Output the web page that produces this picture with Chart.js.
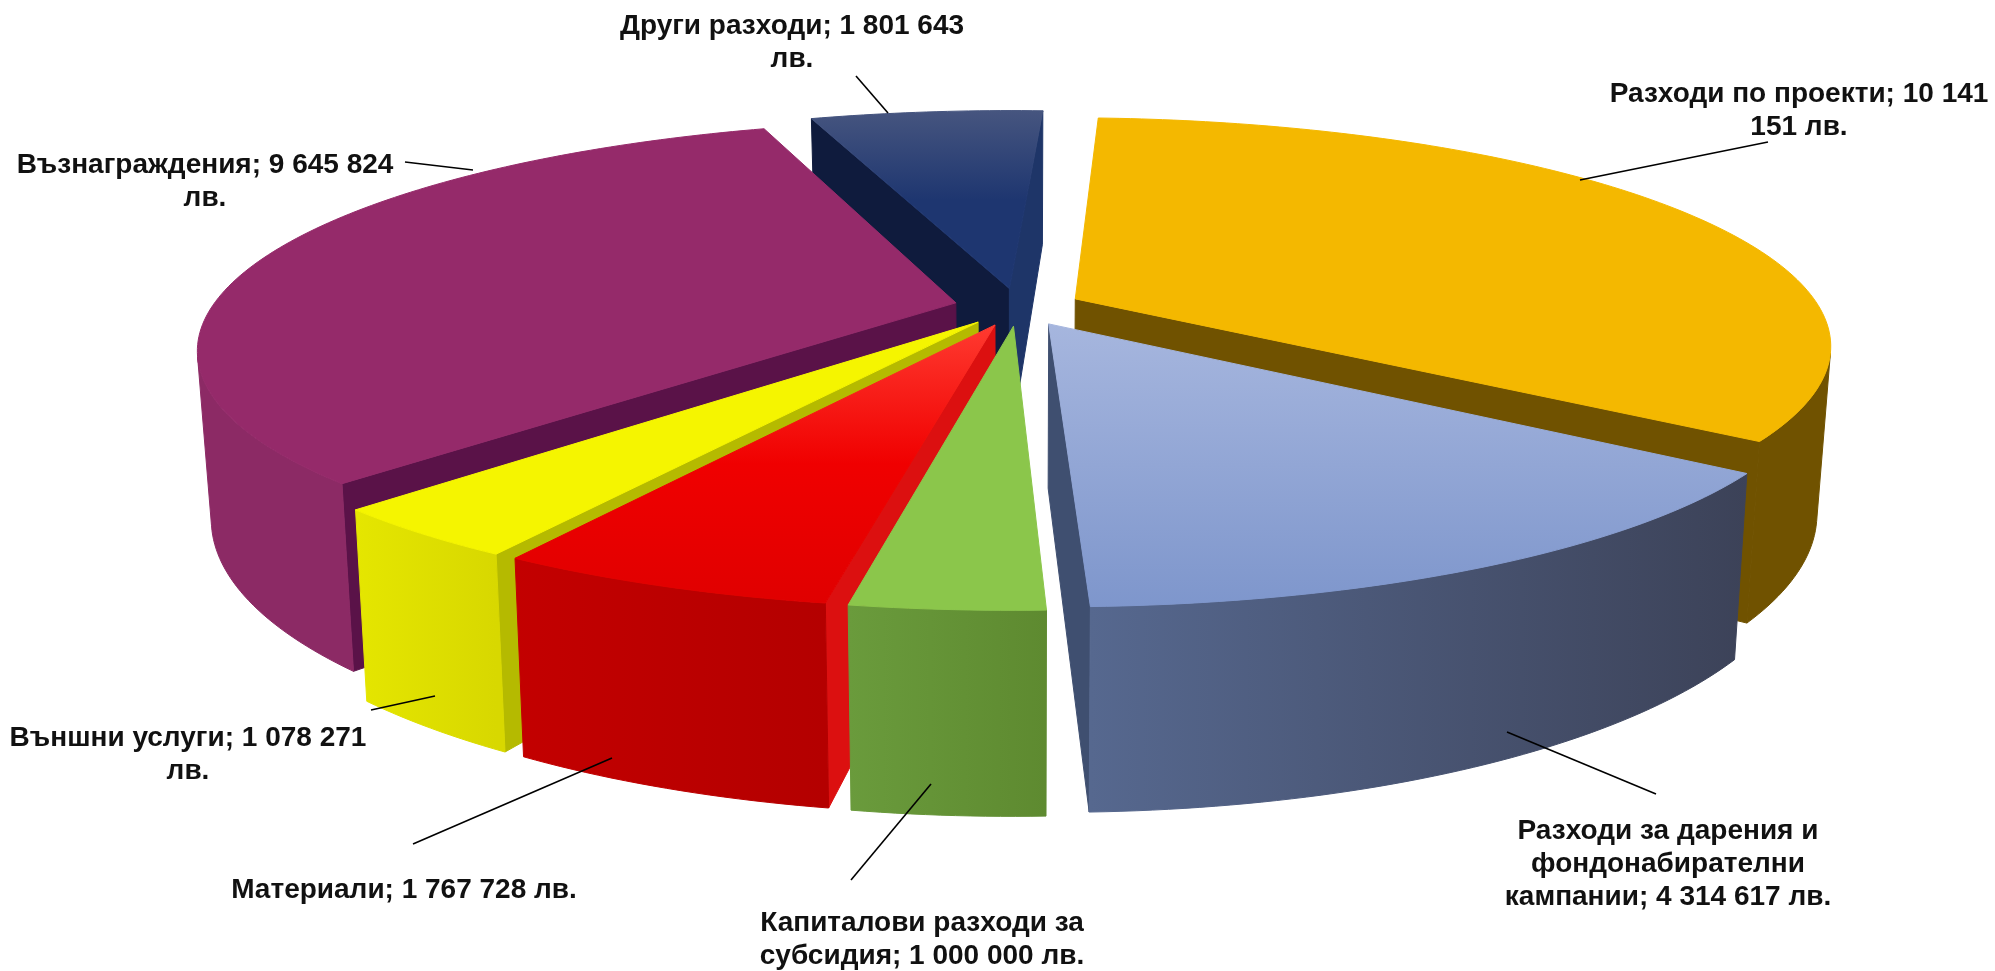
<!DOCTYPE html>
<html>
<head>
<meta charset="utf-8">
<title>Разходи</title>
<script src="https://cdn.jsdelivr.net/npm/chart.js@4/dist/chart.umd.min.js"></script>
<style>
  html, body { margin: 0; background: #fff; }
  canvas { display: block; }
</style>
</head>
<body>
<canvas id="pie3d" width="1995" height="971"></canvas>
<script>
const categories = [
  "Разходи по проекти",
  "Разходи за дарения и фондонабирателни кампании",
  "Капиталови разходи за субсидия",
  "Материали",
  "Външни услуги",
  "Възнаграждения",
  "Други разходи",
];
const values = [10141151, 4314617, 1000000, 1767728, 1078271, 9645824, 1801643];

// colours per slice: top face (vertical stops), outer wall (horizontal stops),
// cut face at the start of the slice, cut face at the end of the slice
const topColors = [
  ["#f4b800", "#f4b800"],
  ["#a6b6de", "#7e96cc"],
  ["#8bc64b", "#8bc64b"],
  ["#ff3a30", "#f00000", "#e00000"],
  ["#f5f500", "#f5f500"],
  ["#952a6a", "#952a6a"],
  ["#46557f", "#1e3670", "#1e3670"],
];
const wallColors = [
  ["#705200", "#705200"],
  ["#56688f", "#3c4258"],
  ["#6a9b3c", "#5e8a30"],
  ["#c30000", "#b40000"],
  ["#e5e600", "#d8d800"],
  ["#8c2a65", "#8c2a65"],
  ["#1e3568", "#1e3568"],
];
const startCutColors = ["#705200", "#3f4f70", "#6a9b3c", "#dc1010", "#b5ba00", "#5a1248", "#0f1b3d"];
const endCutColors = ["#705200", "#3f4f70", "#6a9b3c", "#c30000", "#b5ba00", "#5a1248", "#1e3568"];

// label anchor (centre x, first line middle y), wrap width, leader line
const labelLayout = [
  { x: 1799, y: 94, wrap: 400, line: [1768, 142, 1580, 180] },
  { x: 1668, y: 831, wrap: 340, line: [1656, 794, 1507, 732] },
  { x: 922, y: 923, wrap: 340, line: [851, 880, 931, 784] },
  { x: 404, y: 890, wrap: 400, line: [413, 844, 612, 758] },
  { x: 188, y: 738, wrap: 370, line: [371, 710, 435, 696] },
  { x: 205, y: 165, wrap: 390, line: [405, 162, 473, 170] },
  { x: 792, y: 26, wrap: 360, line: [856, 76, 888, 113] },
];

const view = { dist: 3780, height: 1116, depth: 162, bottomShrink: 0.983 };
const lineHeight = 33;

function formatLv(v) {
  return String(v).replace(/\B(?=(\d{3})+$)/g, " ") + " лв.";
}

function project(arc, X, Y, bottom) {
  const s = 1 / (1 - Y / view.dist);
  const k = bottom ? view.bottomShrink : 1;
  return {
    x: arc.x + X * s * k,
    y: arc.y + ((bottom ? view.height + view.depth : view.height) * s - view.height),
  };
}

// signed area on screen, negative means the wall looks at the viewer
function facing(a, b, c, d) {
  const pts = [a, b, c, d];
  let sum = 0;
  pts.forEach((p, i) => {
    const q = pts[(i + 1) % 4];
    sum += p.x * q.y - q.x * p.y;
  });
  return sum < 0;
}

function fillPoly(ctx, pts, fill) {
  ctx.beginPath();
  pts.forEach((p, i) => (i ? ctx.lineTo(p.x, p.y) : ctx.moveTo(p.x, p.y)));
  ctx.closePath();
  ctx.fillStyle = fill;
  ctx.strokeStyle = fill;
  ctx.lineWidth = 1;
  ctx.fill();
  ctx.stroke();
}

function makeGradient(ctx, x0, y0, x1, y1, stops) {
  const g = ctx.createLinearGradient(x0, y0, x1, y1);
  stops.forEach((c, i) => g.addColorStop(i / (stops.length - 1), c));
  return g;
}

function drawSlice(ctx, arc, i) {
  const mid = (arc.startAngle + arc.endAngle) / 2;
  const off = arc.options.offset;
  const ox = Math.cos(mid) * off;
  const oy = Math.sin(mid) * off;
  const steps = Math.ceil(((arc.endAngle - arc.startAngle) * 180) / Math.PI);
  const ringTop = [];
  const ringBottom = [];
  for (let n = 0; n <= steps; n++) {
    const a = arc.startAngle + ((arc.endAngle - arc.startAngle) * n) / steps;
    const X = ox + Math.cos(a) * arc.outerRadius;
    const Y = oy + Math.sin(a) * arc.outerRadius;
    ringTop.push(project(arc, X, Y, false));
    ringBottom.push(project(arc, X, Y, true));
  }
  const apexTop = project(arc, ox, oy, false);
  const apexBottom = project(arc, ox, oy, true);

  // cut faces
  if (facing(apexTop, ringTop[0], ringBottom[0], apexBottom)) {
    fillPoly(ctx, [apexTop, ringTop[0], ringBottom[0], apexBottom], startCutColors[i]);
  }
  if (facing(ringTop[steps], apexTop, apexBottom, ringBottom[steps])) {
    fillPoly(ctx, [ringTop[steps], apexTop, apexBottom, ringBottom[steps]], endCutColors[i]);
  }

  // outer wall, one polygon per run of visible segments so no seams show
  const xs = ringTop.map((p) => p.x);
  const wallFill = makeGradient(ctx, Math.max(...xs), 0, Math.min(...xs), 0, wallColors[i].slice().reverse());
  let run = [];
  const flush = () => {
    if (run.length > 1) {
      const tops = run.map((n) => ringTop[n]);
      const bottoms = run.map((n) => ringBottom[n]).reverse();
      fillPoly(ctx, tops.concat(bottoms), wallFill);
    }
    run = [];
  };
  for (let n = 0; n < steps; n++) {
    if (facing(ringTop[n], ringTop[n + 1], ringBottom[n + 1], ringBottom[n])) {
      if (!run.length) run.push(n);
      run.push(n + 1);
    } else {
      flush();
    }
  }
  flush();

  // top face
  const ys = ringTop.map((p) => p.y).concat(apexTop.y);
  const topFill = makeGradient(ctx, 0, Math.min(...ys), 0, Math.max(...ys), topColors[i]);
  fillPoly(ctx, [apexTop, ...ringTop], topFill);
}

function wrapText(ctx, text, width) {
  const lines = [];
  let cur = "";
  text.split(" ").forEach((word) => {
    const next = cur ? cur + " " + word : word;
    if (ctx.measureText(next).width > width && cur) {
      lines.push(cur);
      cur = word;
    } else {
      cur = next;
    }
  });
  lines.push(cur);
  return lines;
}

const pie3d = {
  id: "pie3d",
  beforeDatasetDraw(chart, args) {
    const ctx = chart.ctx;
    const arcs = args.meta.data;
    const order = arcs.map((_, i) => i);
    // back slices first, nearer ones paint over them
    order.sort((a, b) => {
      const midA = (arcs[a].startAngle + arcs[a].endAngle) / 2;
      const midB = (arcs[b].startAngle + arcs[b].endAngle) / 2;
      return Math.sin(midA) - Math.sin(midB);
    });
    order.forEach((i) => drawSlice(ctx, arcs[i], i));
    return false;
  },
  afterDraw(chart) {
    const ctx = chart.ctx;
    ctx.save();
    ctx.font = "bold 28px 'Liberation Sans'";
    ctx.textAlign = "center";
    ctx.textBaseline = "middle";
    labelLayout.forEach((l, i) => {
      ctx.strokeStyle = "#000";
      ctx.lineWidth = 1.6;
      ctx.beginPath();
      ctx.moveTo(l.line[0], l.line[1]);
      ctx.lineTo(l.line[2], l.line[3]);
      ctx.stroke();

      ctx.fillStyle = "#111";
      const text = categories[i] + "; " + formatLv(values[i]);
      wrapText(ctx, text, l.wrap).forEach((t, n) => {
        ctx.fillText(t, l.x, l.y + n * lineHeight);
      });
    });
    ctx.restore();
  },
};

new Chart(document.getElementById("pie3d"), {
  type: "pie",
  data: {
    labels: categories,
    datasets: [
      {
        data: values,
        backgroundColor: topColors.map((c) => c[0]),
        borderWidth: 0,
        offset: 64,
      },
    ],
  },
  options: {
    responsive: false,
    animation: false,
    rotation: 3,
    radius: 744,
    layout: { padding: { left: 41, top: 0, right: 0, bottom: 357 } },
    plugins: {
      legend: { display: false },
      tooltip: { enabled: false },
    },
  },
  plugins: [pie3d],
});
</script>
</body>
</html>
